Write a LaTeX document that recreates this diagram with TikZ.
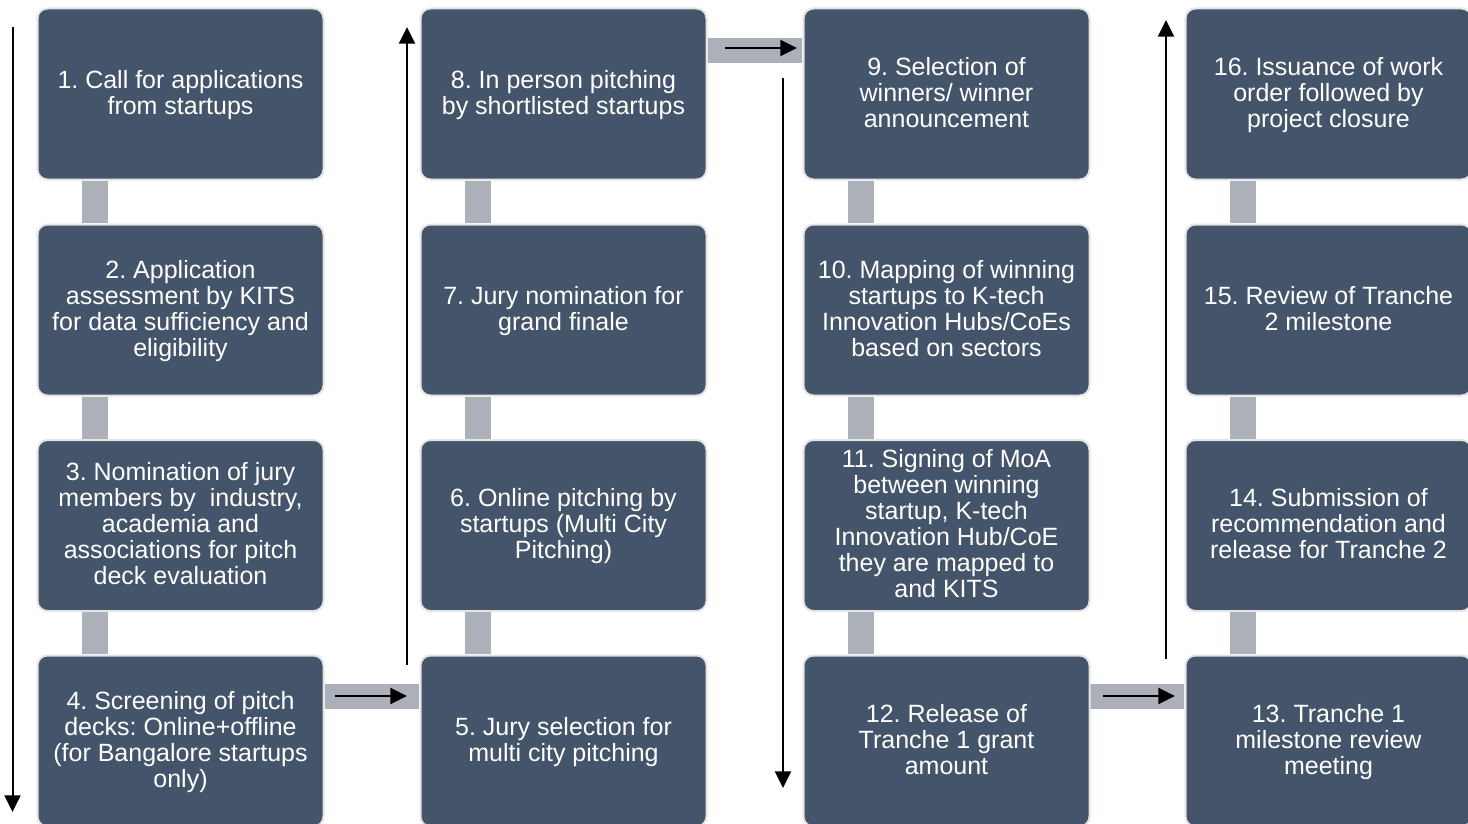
\documentclass[tikz,border=0pt]{standalone}
\usepackage{fontspec}
\setmainfont{Liberation Sans}
\usetikzlibrary{arrows.meta}
\definecolor{boxfill}{HTML}{44546A}
\definecolor{boxline}{HTML}{E4E4E4}
\definecolor{linkgray}{HTML}{ACB0B8}
\frenchspacing
\newcommand{\stxt}[1]{\raisebox{-1.5pt}[\height][\depth]{\begin{tabular}{@{}c@{}}#1\end{tabular}}}
\begin{document}
\begin{tikzpicture}[x=0.75pt,y=-0.75pt,
  stepbox/.style={draw=boxline, line width=1.5pt, fill=boxfill, rounded corners=7.5pt,
    minimum width=214.5pt, minimum height=128.25pt, inner sep=0pt, text=white,
    font=\fontsize{18.75pt}{19.5pt}\selectfont\frenchspacing},
  vlink/.style={fill=linkgray, draw=none, minimum width=19.5pt, minimum height=31.5pt, inner sep=0pt},
  hlink/.style={fill=linkgray, draw=none, minimum width=70.5pt, minimum height=18.75pt, inner sep=0pt},
  flow/.style={line width=1.5pt, -{Triangle[length=12.5pt,width=12pt]}}
]
\useasboundingbox (0,0) rectangle (1468,824);
% links
\foreach \c/\cx in {1/180.5,2/563.5,3/946.5,4/1328.5}{
  \node[vlink] (v\c a) at (\cx-85.5,202) {};
  \node[vlink] (v\c b) at (\cx-85.5,418) {};
  \node[vlink] (v\c c) at (\cx-85.5,633) {};
}
\node[hlink] (h1) at (372,696.5) {};
\node[hlink] (h2) at (754.5,50.5) {};
\node[hlink] (h3) at (1137,696.5) {};
% boxes
\node[stepbox] (b1) at (180.5,94) {\stxt{1. Call for applications\\from startups}};
\node[stepbox] (b2) at (180.5,310) {\stxt{2. Application\\assessment by KITS\\for data sufficiency and\\eligibility}};
\node[stepbox] (b3) at (180.5,525.5) {\stxt{3. Nomination of jury\\members by\ \ industry,\\academia and\\associations for pitch\\deck evaluation}};
\node[stepbox] (b4) at (180.5,741) {\stxt{4. Screening of pitch\\decks: Online+offline\\(for Bangalore startups\\only)}};
\node[stepbox] (b5) at (563.5,741) {\stxt{5. Jury selection for\\multi city pitching}};
\node[stepbox] (b6) at (563.5,525.5) {\stxt{6. Online pitching by\\startups (Multi City\\Pitching)}};
\node[stepbox] (b7) at (563.5,310) {\stxt{7. Jury nomination for\\grand finale}};
\node[stepbox] (b8) at (563.5,94) {\stxt{8. In person pitching\\by shortlisted startups}};
\node[stepbox] (b9) at (946.5,94) {\stxt{9. Selection of\\winners/ winner\\announcement}};
\node[stepbox] (b10) at (946.5,310) {\stxt{10. Mapping of winning\\startups to K-tech\\Innovation Hubs/CoEs\\based on sectors}};
\node[stepbox] (b11) at (946.5,525.5) {\stxt{11. Signing of MoA\\between winning\\startup, K-tech\\Innovation Hub/CoE\\they are mapped to\\and KITS}};
\node[stepbox] (b12) at (946.5,741) {\stxt{12. Release of\\Tranche 1 grant\\amount}};
\node[stepbox] (b13) at (1328.5,741) {\stxt{13. Tranche 1\\milestone review\\meeting}};
\node[stepbox] (b14) at (1328.5,525.5) {\stxt{14. Submission of\\recommendation and\\release for Tranche 2}};
\node[stepbox] (b15) at (1328.5,310) {\stxt{15. Review of Tranche\\2 milestone}};
\node[stepbox] (b16) at (1328.5,94) {\stxt{16. Issuance of work\\order followed by\\project closure}};
% arrow end points
\coordinate (a1s) at (12.5,27);   \coordinate (a1e) at (12.5,812);
\coordinate (a2s) at (407,665);   \coordinate (a2e) at (407,27);
\coordinate (a3s) at (783,78);    \coordinate (a3e) at (783,788);
\coordinate (a4s) at (1166,659);  \coordinate (a4e) at (1166,20);
\coordinate (h1s) at (335,696);   \coordinate (h1e) at (407,696);
\coordinate (h2s) at (725,48);    \coordinate (h2e) at (797,48);
\coordinate (h3s) at (1103,696);  \coordinate (h3e) at (1175,696);
\draw[flow] (a1s) -- (a1e);
\draw[flow] (a2s) -- (a2e);
\draw[flow] (a3s) -- (a3e);
\draw[flow] (a4s) -- (a4e);
\draw[flow] (h1s) -- (h1e);
\draw[flow] (h2s) -- (h2e);
\draw[flow] (h3s) -- (h3e);
\end{tikzpicture}
\end{document}
